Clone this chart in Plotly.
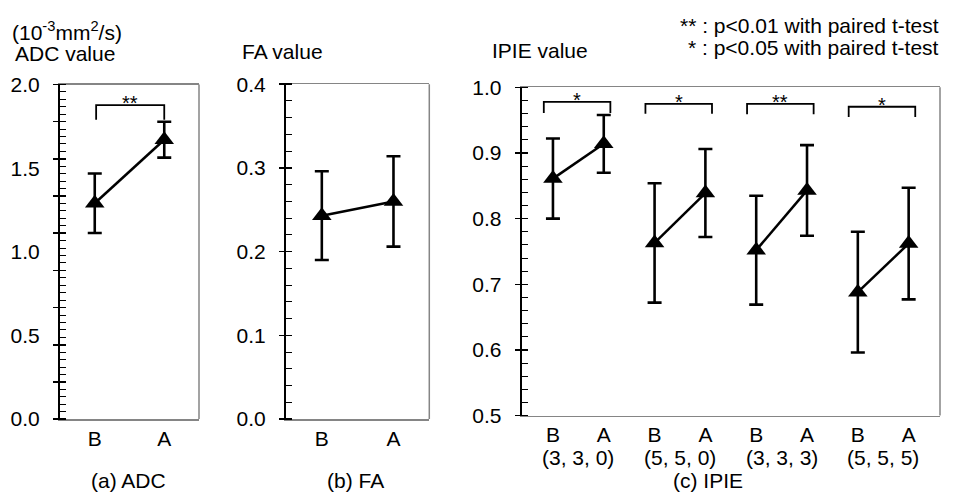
import plotly.graph_objects as go

W, H = 957, 501

# ---------------- data ----------------
adc_groups = ["B", "A"]
adc_mean = [1.29, 1.67]
adc_sd = [0.178, 0.107]

fa_groups = ["B", "A"]
fa_mean = [0.243, 0.260]
fa_sd = [0.053, 0.054]

ipie_groups = ["B", "A", "B", "A", "B", "A", "B", "A"]
ipie_params = ["(3, 3, 0)", "(5, 5, 0)", "(3, 3, 3)", "(5, 5, 5)"]
ipie_mean = [0.861, 0.914, 0.763, 0.839, 0.752, 0.843, 0.688, 0.762]
ipie_sd = [0.061, 0.044, 0.091, 0.067, 0.083, 0.069, 0.092, 0.085]

adc_sig = ["**"]
adc_bracket_top = [1.877]
adc_bracket_leg = [1.79]
ipie_sig = ["*", "*", "**", "*"]
ipie_bracket_top = [0.978, 0.975, 0.975, 0.9705]
ipie_bracket_leg = [0.961, 0.960, 0.959, 0.955]

adc_ticklabels = ["0.0", "0.5", "1.0", "1.5", "2.0"]
fa_ticklabels = ["0.0", "0.1", "0.2", "0.3", "0.4"]
ipie_ticklabels = ["0.5", "0.6", "0.7", "0.8", "0.9", "1.0"]

legend_lines = ["** : p<0.01 with paired t-test", "* : p<0.05 with paired t-test"]
captions = ["(a) ADC", "(b) FA", "(c) IPIE"]
ytitles = ["ADC value", "FA value", "IPIE value"]
unit_text = "(10<sup>-3</sup>mm<sup>2</sup>/s)"

FONT = "Arial, Liberation Sans, sans-serif"
FS = 21
GREY = "#858585"


def fx(p):
    return p / W


def fy(p):
    return 1 - p / H


def frange(a, b, n):
    return [a + (b - a) * k / n for k in range(n + 1)]


panels = [
    dict(x0=60, x1=199, ytop=76, ybot=426.7, yr=[0, 2.0], xr=[0.5, 2.5],
         labels=adc_ticklabels, majors=frange(0, 2.0, 9), minors=frange(0, 2.0, 45)),
    dict(x0=286, x1=429.3, ytop=75.7, ybot=426.7, yr=[0, 0.4], xr=[0.5, 2.5],
         labels=fa_ticklabels, majors=frange(0, 0.4, 4), minors=frange(0, 0.4, 20)),
    dict(x0=521.7, x1=940, ytop=79, ybot=423, yr=[0.5, 1.0], xr=[0.385, 8.617],
         labels=ipie_ticklabels, majors=frange(0.5, 1.0, 5), minors=frange(0.5, 1.0, 25)),
]

fig = go.Figure()

err_style = dict(type="data", visible=True, color="black", thickness=2.6, width=7)
mk = dict(symbol="triangle-up", size=17, color="black")
ln = dict(color="black", width=2.5)


def add_pair(xs, ys, sds, xa, ya):
    fig.add_trace(go.Scatter(x=xs, y=ys, mode="lines+markers", marker=mk, line=ln,
                             error_y=dict(array=sds, **err_style),
                             xaxis=xa, yaxis=ya, showlegend=False, hoverinfo="skip"))


# ADC
add_pair([1, 2], adc_mean, adc_sd, "x", "y")
# FA
add_pair([1, 2], fa_mean, fa_sd, "x2", "y2")
# IPIE (one line per pair)
for p in range(4):
    i0 = 2 * p
    add_pair([i0 + 1, i0 + 2], ipie_mean[i0:i0 + 2], ipie_sd[i0:i0 + 2], "x3", "y3")


# significance brackets
def add_bracket(xl, xr, top, leg, text, xa, ya):
    fig.add_trace(go.Scatter(x=[xl, xl, xr, xr], y=[leg, top, top, leg], mode="lines",
                             line=dict(color="black", width=1.8), xaxis=xa, yaxis=ya,
                             showlegend=False, hoverinfo="skip"))
    fig.add_annotation(x=(xl + xr) / 2, y=top, xref=xa, yref=ya, text=text,
                       showarrow=False, yanchor="bottom", yshift=-11,
                       font=dict(family=FONT, size=20, color="black"))


add_bracket(1.02, 2.0, adc_bracket_top[0], adc_bracket_leg[0], adc_sig[0], "x", "y")
for p in range(4):
    add_bracket(2 * p + 1 - 0.18, 2 * p + 2 + 0.13, ipie_bracket_top[p], ipie_bracket_leg[p],
                ipie_sig[p], "x3", "y3")

# dummy traces for tick axes
for k, ya in enumerate(["y4", "y5", "y6"]):
    fig.add_trace(go.Scatter(x=[None], y=[None], xaxis=["x", "x2", "x3"][k], yaxis=ya,
                             showlegend=False, hoverinfo="skip", mode="markers"))

layout = dict(width=W, height=H, margin=dict(l=0, r=0, t=0, b=0),
              paper_bgcolor="white", plot_bgcolor="white", showlegend=False,
              hovermode=False,
              font=dict(family=FONT, size=FS, color="black"))

xticks = [dict(vals=[1, 2], text=adc_groups), dict(vals=[1, 2], text=fa_groups),
          dict(vals=list(range(1, 9)), text=ipie_groups)]
axn = ["", "2", "3"]
shapes = []
for k, pn in enumerate(panels):
    n = axn[k]
    layout["xaxis" + n] = dict(domain=[fx(pn["x0"]), fx(pn["x1"])], range=pn["xr"],
                               anchor="y" + n, showline=True, linecolor=GREY, linewidth=1.5,
                               mirror=True, ticks="", tickmode="array", tickvals=xticks[k]["vals"],
                               ticktext=xticks[k]["text"], showgrid=False, zeroline=False,
                               tickfont=dict(size=FS), ticklabelstandoff=0)
    nl = len(pn["labels"])
    layout["yaxis" + n] = dict(domain=[fy(pn["ybot"]), fy(pn["ytop"])], range=pn["yr"],
                               anchor="x" + n, showline=True, linecolor="black", linewidth=2,
                               ticks="", tickmode="array",
                               tickvals=frange(pn["yr"][0], pn["yr"][1], nl - 1),
                               ticktext=pn["labels"], showgrid=False, zeroline=False,
                               tickfont=dict(size=FS), ticklabelstandoff=14)
    layout["yaxis" + str(4 + k)] = dict(overlaying="y" + n, anchor="free",
                                        position=fx(pn["x0"] + 6), range=pn["yr"],
                                        showline=False, showgrid=False, zeroline=False,
                                        showticklabels=False, tickmode="array",
                                        tickvals=pn["majors"], ticks="outside", ticklen=13,
                                        tickwidth=1.5, tickcolor="black",
                                        minor=dict(tickmode="array", tickvals=pn["minors"],
                                                   ticks="outside", ticklen=6, tickwidth=1,
                                                   tickcolor="black"))
    shapes.append(dict(type="line", xref="x" + n + " domain", yref="y" + n + " domain",
                       x0=1, x1=1, y0=0, y1=1, line=dict(color=GREY, width=1.5)))

layout["shapes"] = shapes
fig.update_layout(**layout)

# IPIE parameter group labels
for p, lab in enumerate(ipie_params):
    fig.add_annotation(x=2 * p + 1.5, y=fy(467), xref="x3", yref="paper", text=lab,
                       showarrow=False, xanchor="center", yanchor="middle",
                       font=dict(size=FS), borderpad=0)

# captions
for lab, cx in zip(captions, [128, 355, 708]):
    fig.add_annotation(x=fx(cx), y=fy(491), xref="paper", yref="paper", text=lab,
                       showarrow=False, xanchor="center", yanchor="middle", font=dict(size=FS),
                       borderpad=0)

# axis titles
fig.add_annotation(x=fx(10), y=fy(20), xref="paper", yref="paper", text=unit_text,
                   showarrow=False, xanchor="left", yanchor="middle", font=dict(size=FS))
for t, tx, ty in zip(ytitles, [13, 240, 490], [43, 41, 40]):
    fig.add_annotation(x=fx(tx), y=fy(ty), xref="paper", yref="paper", text=t,
                       showarrow=False, xanchor="left", yanchor="middle", font=dict(size=FS))

# significance legend
for t, ty in zip(legend_lines, [14, 37]):
    fig.add_annotation(x=fx(941), y=fy(ty), xref="paper", yref="paper", text=t,
                       showarrow=False, xanchor="right", yanchor="middle", font=dict(size=FS))

fig.write_html("out.html", config={"displayModeBar": False, "staticPlot": True},
               post_script="document.body.style.margin='0';")
